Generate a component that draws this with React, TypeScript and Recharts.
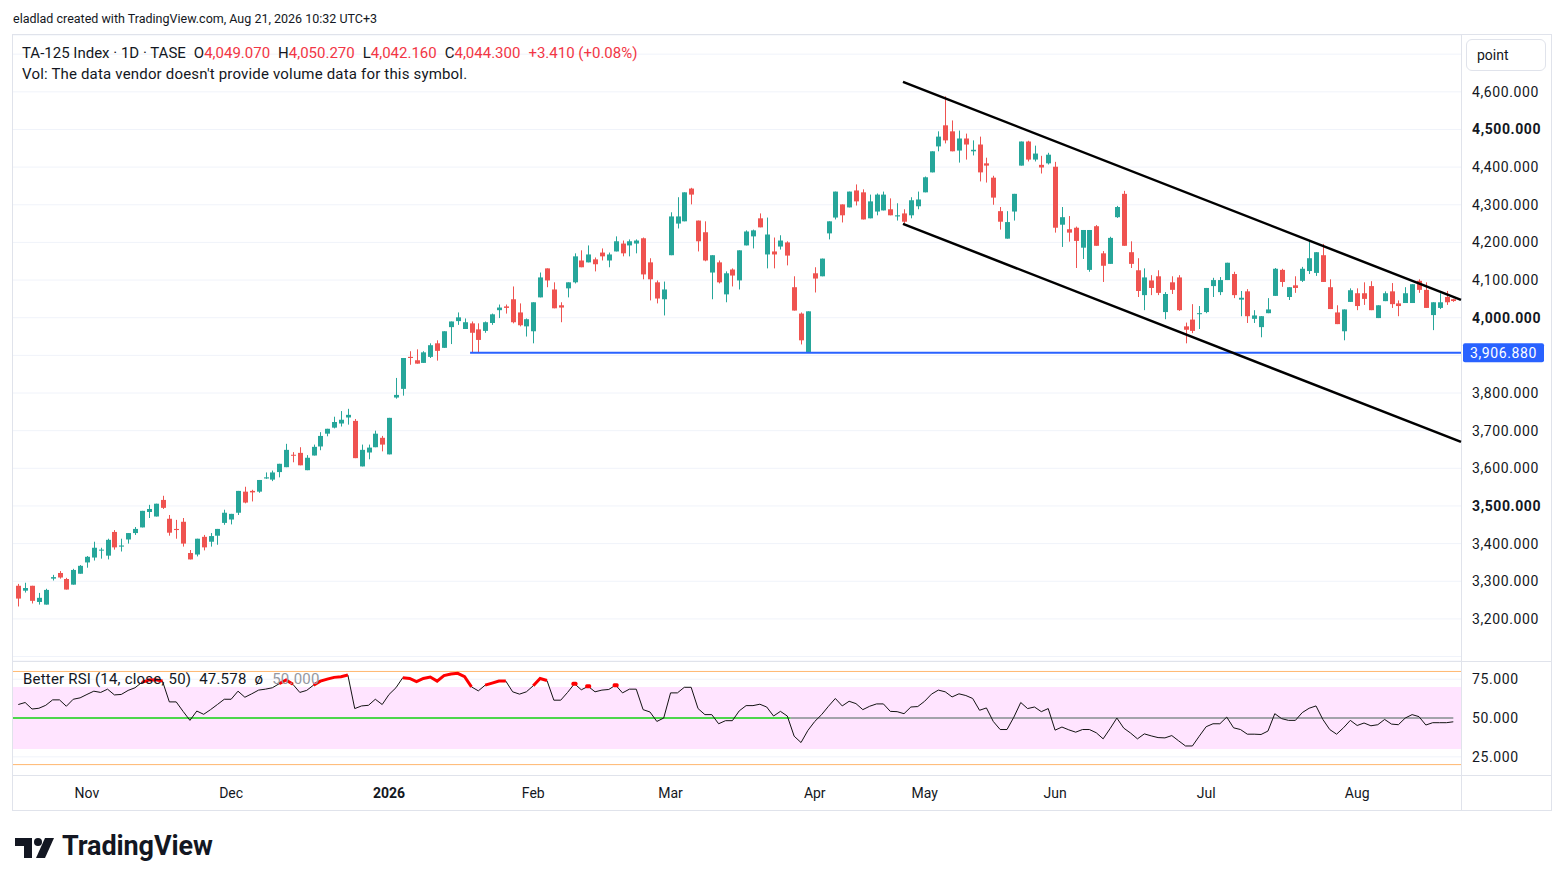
import React from 'react';
import {
  ComposedChart,
  Bar,
  Line,
  XAxis,
  YAxis,
  CartesianGrid,
  ReferenceLine,
  ReferenceArea,
} from 'recharts';

// ---------- data ----------
const opens = [
  3288, 3275, 3288, 3245, 3238, 3307, 3322, 3306, 3291, 3320,
  3350, 3363, 3382, 3368, 3431, 3392, 3411, 3428, 3443, 3484,
  3472, 3516, 3466, 3439, 3458, 3375, 3371, 3418, 3405, 3421,
  3455, 3464, 3482, 3538, 3540, 3538, 3573, 3570, 3590, 3603,
  3636, 3641, 3595, 3634, 3658, 3692, 3708, 3719, 3735, 3726,
  3605, 3642, 3656, 3681, 3637, 3788, 3811, 3896, 3887, 3880,
  3896, 3932, 3920, 3975, 3991, 3970, 3985, 3969, 3965, 3986,
  4020, 4030, 4049, 4014, 3977, 3964, 4054, 4131, 4075, 4033,
  4078, 4094, 4152, 4147, 4155, 4173, 4152, 4176, 4197, 4192,
  4197, 4211, 4147, 4094, 4049, 4166, 4250, 4256, 4343, 4258,
  4227, 4120, 4147, 4062, 4128, 4099, 4192, 4216, 4264, 4168,
  4176, 4189, 4200, 4081, 4011, 3909, 4118, 4110, 4224, 4266,
  4301, 4293, 4338, 4333, 4264, 4282, 4285, 4288, 4269, 4277,
  4272, 4296, 4333, 4386, 4455, 4511, 4495, 4444, 4476, 4442,
  4460, 4410, 4372, 4283, 4210, 4282, 4404, 4468, 4420, 4406,
  4410, 4401, 4247, 4235, 4239, 4186, 4127, 4243, 4171, 4143,
  4267, 4329, 4174, 4126, 4060, 4099, 4110, 4015, 4094, 4107,
  3977, 3995, 4010, 4015, 4084, 4068, 4100, 4116, 4048, 4070,
  3997, 3975, 4012, 4058, 4127, 4055, 4086, 4098, 4124, 4119,
  4166, 4081, 4014, 3964, 4042, 4065, 4065, 4084, 3999, 4044,
  4070, 4038, 4039, 4039, 4098, 4074, 4007, 4026, 4055, 4049.07,
];
const highs = [
  3293, 3296, 3288, 3269, 3280, 3317, 3327, 3309, 3333, 3343,
  3367, 3405, 3389, 3413, 3436, 3413, 3428, 3444, 3487, 3503,
  3506, 3527, 3476, 3463, 3468, 3383, 3413, 3423, 3428, 3439,
  3490, 3479, 3540, 3551, 3543, 3569, 3589, 3594, 3612, 3665,
  3643, 3656, 3635, 3663, 3696, 3705, 3737, 3752, 3758, 3731,
  3663, 3663, 3700, 3686, 3734, 3840, 3893, 3911, 3916, 3911,
  3932, 3940, 3964, 3990, 4014, 3998, 3990, 3985, 3990, 4011,
  4035, 4035, 4083, 4038, 3998, 4041, 4120, 4131, 4094, 4041,
  4094, 4171, 4179, 4192, 4160, 4184, 4173, 4216, 4205, 4208,
  4208, 4213, 4158, 4099, 4096, 4280, 4320, 4333, 4345, 4258,
  4256, 4166, 4152, 4123, 4131, 4179, 4232, 4234, 4277, 4266,
  4213, 4219, 4203, 4110, 4014, 4017, 4134, 4157, 4256, 4335,
  4301, 4335, 4354, 4341, 4327, 4330, 4335, 4317, 4304, 4288,
  4320, 4335, 4375, 4442, 4495, 4588, 4524, 4497, 4489, 4471,
  4481, 4425, 4377, 4294, 4283, 4329, 4468, 4470, 4457, 4430,
  4438, 4414, 4294, 4270, 4242, 4233, 4233, 4246, 4177, 4215,
  4297, 4337, 4203, 4158, 4131, 4113, 4126, 4068, 4110, 4113,
  3987, 4036, 4031, 4079, 4106, 4108, 4146, 4122, 4071, 4076,
  4020, 4004, 4052, 4132, 4130, 4081, 4110, 4135, 4204, 4174,
  4196, 4102, 4033, 4022, 4078, 4078, 4094, 4097, 4033, 4070,
  4092, 4046, 4081, 4089, 4102, 4094, 4041, 4065, 4071, 4050.27,
];
const lows = [
  3233, 3270, 3241, 3238, 3238, 3302, 3307, 3278, 3291, 3320,
  3336, 3355, 3360, 3358, 3384, 3379, 3400, 3423, 3443, 3468,
  3472, 3492, 3421, 3413, 3392, 3358, 3366, 3382, 3392, 3397,
  3450, 3451, 3476, 3507, 3512, 3535, 3572, 3566, 3576, 3603,
  3616, 3608, 3595, 3634, 3648, 3685, 3706, 3711, 3716, 3627,
  3605, 3624, 3656, 3645, 3637, 3785, 3793, 3875, 3878, 3880,
  3893, 3886, 3920, 3930, 3981, 3970, 3907, 3907, 3960, 3981,
  3999, 4011, 3985, 3977, 3950, 3932, 4054, 4081, 4025, 3988,
  4054, 4091, 4134, 4147, 4123, 4152, 4134, 4176, 4163, 4163,
  4171, 4102, 4046, 4038, 4006, 4166, 4237, 4256, 4301, 4176,
  4150, 4049, 4091, 4041, 4083, 4075, 4192, 4184, 4240, 4131,
  4131, 4181, 4139, 4019, 3929, 3907, 4067, 4110, 4208, 4261,
  4253, 4293, 4298, 4261, 4264, 4272, 4285, 4272, 4258, 4250,
  4264, 4288, 4333, 4386, 4442, 4463, 4442, 4412, 4420, 4431,
  4362, 4359, 4300, 4234, 4210, 4258, 4404, 4415, 4415, 4383,
  4407, 4226, 4188, 4202, 4132, 4156, 4122, 4191, 4095, 4143,
  4265, 4191, 4132, 4055, 4020, 4060, 4060, 3996, 4063, 4018,
  3932, 3959, 3970, 4012, 4055, 4060, 4100, 4052, 4004, 3986,
  3986, 3948, 4012, 4058, 4082, 4047, 4066, 4095, 4116, 4111,
  4095, 4023, 3983, 3940, 4042, 4020, 4034, 4020, 3999, 4044,
  4026, 4004, 4039, 4039, 4066, 4026, 3967, 4023, 4034, 4042.16,
];
const closes = [
  3254, 3282, 3248, 3256, 3277, 3311, 3310, 3278, 3330, 3341,
  3365, 3389, 3384, 3410, 3390, 3395, 3428, 3439, 3487, 3492,
  3506, 3495, 3429, 3436, 3400, 3358, 3413, 3390, 3420, 3439,
  3482, 3479, 3540, 3509, 3536, 3569, 3576, 3589, 3612, 3649,
  3634, 3608, 3628, 3657, 3686, 3705, 3723, 3729, 3742, 3627,
  3649, 3655, 3692, 3663, 3734, 3795, 3893, 3893, 3878, 3908,
  3927, 3912, 3964, 3990, 4001, 3988, 3960, 3941, 3988, 4009,
  4027, 4026, 3988, 3980, 3996, 4041, 4107, 4099, 4025, 4027,
  4094, 4163, 4134, 4168, 4142, 4163, 4168, 4203, 4171, 4203,
  4205, 4115, 4102, 4051, 4075, 4269, 4269, 4333, 4327, 4203,
  4152, 4166, 4094, 4118, 4112, 4179, 4229, 4232, 4240, 4221,
  4168, 4205, 4165, 4019, 3940, 4017, 4104, 4157, 4256, 4335,
  4272, 4335, 4309, 4261, 4309, 4327, 4327, 4272, 4272, 4255,
  4312, 4314, 4373, 4442, 4481, 4471, 4442, 4476, 4460, 4446,
  4386, 4404, 4319, 4255, 4254, 4329, 4468, 4420, 4436, 4399,
  4433, 4239, 4267, 4226, 4204, 4233, 4233, 4191, 4138, 4212,
  4294, 4191, 4143, 4071, 4107, 4079, 4066, 4063, 4074, 4020,
  3968, 3965, 4012, 4079, 4100, 4100, 4146, 4060, 4053, 4004,
  4006, 4004, 4022, 4130, 4095, 4081, 4079, 4130, 4158, 4174,
  4095, 4023, 3983, 4022, 4073, 4031, 4050, 4020, 4033, 4065,
  4036, 4031, 4065, 4089, 4074, 4026, 4041, 4041, 4041, 4044.3,
];
const rsiValues = [
  58.7, 60.0, 55.8, 56.3, 58.2, 61.7, 61.7, 57.6, 62.1, 63.0,
  65.2, 67.3, 66.5, 68.6, 64.9, 65.2, 67.8, 69.5, 73.0, 74.5,
  74.7, 73.8, 60.4, 60.4, 54.3, 48.5, 54.5, 52.4, 55.4, 58.7,
  62.1, 62.1, 67.3, 63.4, 65.6, 68.0, 68.6, 69.5, 72.1, 74.5,
  71.7, 66.5, 67.8, 71.2, 73.8, 75.1, 76.2, 76.6, 77.7, 56.1,
  57.8, 58.2, 62.1, 58.7, 65.2, 69.5, 76.0, 75.5, 73.4, 75.5,
  76.4, 73.8, 77.3, 78.4, 78.8, 76.6, 70.1, 67.5, 71.2, 72.5,
  73.8, 73.8, 66.9, 65.4, 66.9, 70.8, 75.5, 74.2, 61.5, 61.5,
  66.5, 72.1, 68.2, 70.4, 66.9, 68.0, 68.4, 71.2, 66.2, 68.6,
  68.6, 55.4, 53.9, 47.8, 50.0, 66.2, 66.2, 69.8, 69.8, 56.1,
  52.2, 52.2, 46.3, 48.3, 48.3, 54.6, 58.0, 58.0, 58.9, 57.1,
  51.3, 54.3, 51.3, 38.3, 34.2, 42.0, 47.8, 52.2, 57.6, 62.6,
  57.8, 60.8, 59.3, 55.4, 57.6, 59.1, 59.1, 54.3, 54.1, 52.8,
  57.1, 57.4, 60.8, 65.4, 68.0, 66.9, 63.6, 65.6, 64.5, 62.6,
  55.0, 56.5, 47.8, 42.6, 42.6, 50.6, 60.0, 56.1, 57.1, 54.1,
  56.1, 42.2, 44.2, 42.4, 40.9, 42.6, 42.6, 40.5, 36.6, 43.1,
  50.0, 43.5, 40.3, 36.6, 39.8, 38.5, 37.4, 37.2, 38.7, 35.3,
  32.0, 32.0, 38.3, 44.4, 46.3, 46.3, 50.6, 43.7, 42.6, 39.6,
  39.6, 39.4, 41.6, 52.8, 49.6, 48.5, 48.5, 53.5, 56.3, 57.8,
  49.1, 42.6, 39.6, 43.7, 48.5, 45.2, 46.8, 45.0, 45.7, 49.1,
  46.1, 45.7, 50.0, 52.2, 50.9, 45.5, 47.0, 47.0, 47.0, 47.578,
];

const monthTicks = [10, 31, 54, 75, 95, 116, 132, 151, 173, 195];
const monthLabels = ['Nov', 'Dec', '2026', 'Feb', 'Mar', 'Apr', 'May', 'Jun', 'Jul', 'Aug'];
const priceTicks = [3100, 3200, 3300, 3400, 3500, 3600, 3700, 3800, 3900, 4000, 4100, 4200, 4300, 4400, 4500, 4600, 4700];
const hiddenPriceLabels = [3100, 3900, 4700];
const rsiTicks = [25, 50, 75];
const supportLevel = 3906.88;
const supportStart = 65.8;
const upperTrend = [{ x: 128.85, y: 4626.6 }, { x: 210.12, y: 4047.3 }];
const lowerTrend = [{ x: 128.85, y: 4249.3 }, { x: 210.12, y: 3670 }];
const midSplit = 112.5;

// ---------- layout constants ----------
const X_DOMAIN: [number, number] = [-0.77, 210.12];
const PRICE_DOMAIN: [number, number] = [3088.2, 4750.9];
const RSI_DOMAIN: [number, number] = [13.3, 86.1];
const UP = '#26a69a';
const DOWN = '#ef5350';
const TXT = '#131722';
const FONT = 'Roboto, "Noto Sans", sans-serif';

const candleData = opens.map((o, i) => ({
  i,
  o,
  h: highs[i],
  l: lows[i],
  c: closes[i],
  range: [lows[i], highs[i]],
}));

const rsiData = rsiValues.map((v, i) => ({
  i,
  rsi: v,
  hot: v > 70 ? v : null,
}));

const fmtPrice = (v: number) =>
  v.toLocaleString('en-US', { minimumFractionDigits: 3, maximumFractionDigits: 3 });

const Candle = (props: any) => {
  const { x, y, width, height, payload } = props;
  if (x == null || y == null || !payload) return <g />;
  const { o, c, h, l } = payload;
  const top = Math.min(y, y + height);
  const hh = Math.abs(height);
  const k = h - l > 0 ? hh / (h - l) : 0;
  const yO = top + (h - o) * k;
  const yC = top + (h - c) * k;
  const color = c >= o ? UP : DOWN;
  const cx = Math.round(x + width / 2);
  const bTop = Math.min(yO, yC);
  const bH = Math.max(1, Math.abs(yO - yC));
  return (
    <g>
      <line x1={cx + 0.5} x2={cx + 0.5} y1={top} y2={top + hh} stroke={color} strokeWidth={1} />
      <rect x={cx - 2} y={bTop} width={5} height={bH} fill={color} />
    </g>
  );
};

const PriceTick = (props: any) => {
  const { x, y, payload } = props;
  const v = payload.value;
  if (hiddenPriceLabels.includes(v)) return <g />;
  const bold = v % 500 === 0;
  return (
    <text x={x} y={y} dy={5} textAnchor="start" fontSize={14} letterSpacing={0.6} fontFamily={FONT} fontWeight={bold ? 700 : 400} fill={TXT}>
      {fmtPrice(v)}
    </text>
  );
};

const RsiTick = (props: any) => {
  const { x, y, payload } = props;
  return (
    <text x={x} y={y} dy={5} textAnchor="start" fontSize={14} letterSpacing={0.6} fontFamily={FONT} fill={TXT}>
      {fmtPrice(payload.value)}
    </text>
  );
};

const TimeTick = (props: any) => {
  const { x, y, payload } = props;
  const idx = monthTicks.indexOf(payload.value);
  const label = monthLabels[idx] ?? '';
  return (
    <text x={x} y={y} dy={5} textAnchor="middle" fontSize={14} fontFamily={FONT} fontWeight={label === '2026' ? 700 : 400} fill={TXT}>
      {label}
    </text>
  );
};

const SupportTag = (props: any) => {
  const vb = props.viewBox || {};
  const left = vb.x + vb.width + 2;
  const cy = vb.y;
  return (
    <g>
      <rect x={left} y={cy - 9.5} width={81} height={19} rx={2} fill="#2962ff" />
      <text x={left + 40.5} y={cy} dy={5} textAnchor="middle" fontSize={14} letterSpacing={0.6} fontFamily={FONT} fill="#ffffff">
        {fmtPrice(supportLevel)}
      </text>
    </g>
  );
};

const HotDot = (props: any) => {
  const { cx, cy, index } = props;
  const cur = rsiData[index]?.hot;
  const prev = rsiData[index - 1]?.hot;
  const next = rsiData[index + 1]?.hot;
  if (cur == null || cx == null || cy == null || prev != null || next != null) return <g key={`d${index}`} />;
  return <rect key={`d${index}`} x={cx - 3} y={cy - 2} width={6} height={4} rx={1.5} fill="#ff0000" />;
};

const TVLogo = () => (
  <svg width={44} height={24} viewBox="0 0 44 24" style={{ position: 'absolute', left: 15, top: 836 }}>
    <path d="M0 2 H17 V22 H9 V10 H0 Z" fill={TXT} />
    <circle cx={23} cy={6} r={4} fill={TXT} />
    <path d="M21 22 L30 2 H39 L30 22 Z" fill={TXT} />
  </svg>
);

export default function App() {
  return (
    <div style={{ position: 'absolute', left: 0, top: 0, width: 1564, height: 885, background: '#ffffff', fontFamily: FONT, color: TXT, overflow: 'hidden' }}>
      {/* header */}
      <div style={{ position: 'absolute', left: 13, top: 11, fontSize: 12.5, whiteSpace: 'nowrap' }}>
        eladlad created with TradingView.com, Aug 21, 2026 10:32 UTC+3
      </div>

      {/* frame */}
      <div style={{ position: 'absolute', left: 12, top: 34, width: 1538, height: 775, border: '1px solid #e0e3eb' }} />
      <div style={{ position: 'absolute', left: 1461, top: 34, width: 1, height: 776, background: '#e0e3eb' }} />
      <div style={{ position: 'absolute', left: 12, top: 661, width: 1539, height: 1, background: '#e0e3eb' }} />
      <div style={{ position: 'absolute', left: 12, top: 775, width: 1539, height: 1, background: '#e0e3eb' }} />

      {/* price pane */}
      <div style={{ position: 'absolute', left: 13, top: 35 }}>
        <ComposedChart width={1538} height={626} data={candleData} margin={{ top: 0, right: 0, bottom: 0, left: 0 }}>
          <CartesianGrid horizontal vertical={false} stroke="#f0f3fa" />
          <XAxis dataKey="i" type="number" domain={X_DOMAIN} allowDataOverflow hide />
          <YAxis
            orientation="right"
            width={90}
            domain={PRICE_DOMAIN}
            ticks={priceTicks}
            allowDataOverflow
            axisLine={false}
            tickLine={false}
            tickSize={0}
            tickMargin={11}
            tick={<PriceTick />}
            interval={0}
          />
          <Bar dataKey="range" barSize={5} shape={<Candle />} isAnimationActive={false} />
          <ReferenceLine
            segment={[{ x: supportStart, y: supportLevel }, { x: X_DOMAIN[1], y: supportLevel }]}
            stroke="#2962ff"
            strokeWidth={2}
            ifOverflow="visible"
          />
          <ReferenceLine segment={upperTrend} stroke="#000000" strokeWidth={2.5} ifOverflow="visible" />
          <ReferenceLine segment={lowerTrend} stroke="#000000" strokeWidth={2.5} ifOverflow="visible" />
          <ReferenceLine y={supportLevel} stroke="none" ifOverflow="visible" label={(p: any) => <SupportTag {...p} />} />
        </ComposedChart>
      </div>

      {/* legend over price pane */}
      <div style={{ position: 'absolute', left: 22, top: 43, fontSize: 15, whiteSpace: 'nowrap', lineHeight: '20px' }}>
        <span>TA-125 Index · 1D · TASE</span>
        <span style={{ marginLeft: 8 }}>O</span><span style={{ color: '#f23645' }}>4,049.070</span>
        <span style={{ marginLeft: 8 }}>H</span><span style={{ color: '#f23645' }}>4,050.270</span>
        <span style={{ marginLeft: 8 }}>L</span><span style={{ color: '#f23645' }}>4,042.160</span>
        <span style={{ marginLeft: 8 }}>C</span><span style={{ color: '#f23645' }}>4,044.300</span>
        <span style={{ marginLeft: 8, color: '#f23645' }}>+3.410 (+0.08%)</span>
      </div>
      <div style={{ position: 'absolute', left: 22, top: 64, fontSize: 15, whiteSpace: 'nowrap', lineHeight: '20px', letterSpacing: 0.18 }}>
        Vol: The data vendor doesn't provide volume data for this symbol.
      </div>

      {/* scale mode button */}
      <div style={{ position: 'absolute', left: 1466, top: 39, width: 80, height: 32, border: '1px solid #e0e3eb', borderRadius: 6, background: '#ffffff', fontSize: 14, lineHeight: '30px', paddingLeft: 10, boxSizing: 'border-box' }}>
        point
      </div>

      {/* RSI pane + time axis */}
      <div style={{ position: 'absolute', left: 13, top: 662 }}>
        <ComposedChart width={1538} height={148} data={rsiData} margin={{ top: 0, right: 0, bottom: 0, left: 0 }}>
          <ReferenceArea y1={30} y2={70} x1={X_DOMAIN[0]} x2={X_DOMAIN[1]} fill="#ffe4ff" fillOpacity={1} stroke="none" ifOverflow="hidden" />
          <CartesianGrid horizontal vertical={false} stroke="#f0f3fa" horizontalValues={[25, 75]} />
          <XAxis
            dataKey="i"
            type="number"
            domain={X_DOMAIN}
            allowDataOverflow
            ticks={monthTicks}
            interval={0}
            height={35}
            axisLine={false}
            tickLine={false}
            tickSize={0}
            tickMargin={18}
            tick={<TimeTick />}
          />
          <YAxis
            orientation="right"
            width={90}
            domain={RSI_DOMAIN}
            ticks={rsiTicks}
            allowDataOverflow
            axisLine={false}
            tickLine={false}
            tickSize={0}
            tickMargin={11}
            tick={<RsiTick />}
            interval={0}
          />
          <ReferenceLine y={80} stroke="#ffb870" strokeWidth={1} />
          <ReferenceLine y={20} stroke="#ffb870" strokeWidth={1} />
          <ReferenceLine segment={[{ x: X_DOMAIN[0], y: 50 }, { x: midSplit, y: 50 }]} stroke="#4cd64c" strokeWidth={2} />
          <ReferenceLine segment={[{ x: midSplit, y: 50 }, { x: 209, y: 50 }]} stroke="#a3a3ab" strokeWidth={2} />
          <Line dataKey="rsi" type="linear" stroke="#131313" strokeWidth={1} dot={false} isAnimationActive={false} />
          <Line dataKey="hot" type="linear" stroke="#ff0000" strokeWidth={3} dot={(p: any) => <HotDot {...p} />} connectNulls={false} isAnimationActive={false} />
        </ComposedChart>
      </div>

      {/* RSI legend */}
      <div style={{ position: 'absolute', left: 23, top: 669, fontSize: 15, whiteSpace: 'nowrap', lineHeight: '20px', letterSpacing: 0.2 }}>
        <span>Better RSI (14, close, 50)</span>
        <span style={{ marginLeft: 8 }}>47.578</span>
        <span style={{ marginLeft: 8 }}>ø</span>
        <span style={{ marginLeft: 9, color: '#9598a1' }}>50.000</span>
      </div>

      {/* footer logo */}
      <TVLogo />
      <div style={{ position: 'absolute', left: 62, top: 830, fontSize: 27, fontWeight: 700, letterSpacing: -0.1, whiteSpace: 'nowrap', color: TXT }}>
        TradingView
      </div>
    </div>
  );
}
